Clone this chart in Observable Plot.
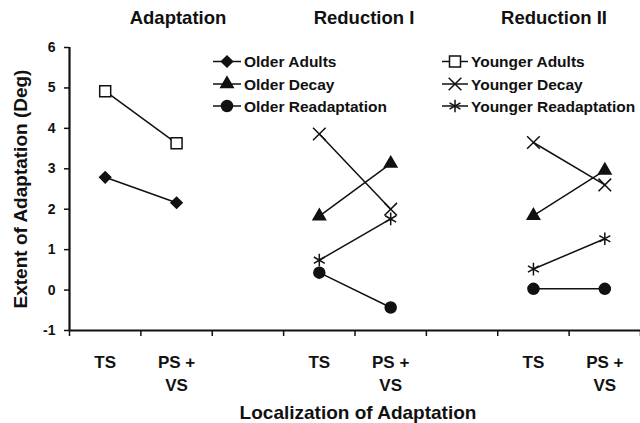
<!DOCTYPE html>
<html>
<head>
<meta charset="utf-8">
<script src="https://cdn.jsdelivr.net/npm/d3@7"></script>
<script src="https://cdn.jsdelivr.net/npm/@observablehq/plot@0.6"></script>
<style>
  body { margin: 0; background: #fff; }
  #wrap { position: relative; width: 640px; height: 423px; font-family: "Liberation Sans", Arial, sans-serif; color: #111; }
  .ptitle { position: absolute; top: 8px; line-height: 20px; font-size: 18.5px; font-weight: bold; white-space: nowrap; transform: translateX(-50%); }
  #legend { position: absolute; left: 0; top: 0; pointer-events: none; }
</style>
</head>
<body>
<div id="wrap"></div>
<script>
// ---- data ----
const slots = ["TS", "PS +\nVS", "", "TS", "PS +\nVS", "", "TS", "PS +\nVS"];
const panels = ["Adaptation", "Reduction I", "Reduction II"];
const panelStartSlot = [0, 3, 6];
const conditions = ["TS", "PS + VS"];
const yTicks = [-1, 0, 1, 2, 3, 4, 5, 6];

const olderAdults = [2.79, 2.16];
const youngerAdults = [4.92, 3.63];
const olderDecayR1 = [1.83, 3.13];
const olderDecayR2 = [1.84, 2.96];
const youngerDecayR1 = [3.86, 2.00];
const youngerDecayR2 = [3.65, 2.60];
const olderReadaptR1 = [0.43, -0.43];
const olderReadaptR2 = [0.03, 0.03];
const youngerReadaptR1 = [0.74, 1.76];
const youngerReadaptR2 = [0.52, 1.27];

const seriesNames = ["Older Adults", "Older Decay", "Older Readaptation", "Younger Adults", "Younger Decay", "Younger Readaptation"];

const seriesDefs = [
  {name: "Older Adults", panel: "Adaptation", values: olderAdults},
  {name: "Younger Adults", panel: "Adaptation", values: youngerAdults},
  {name: "Older Decay", panel: "Reduction I", values: olderDecayR1},
  {name: "Younger Decay", panel: "Reduction I", values: youngerDecayR1},
  {name: "Older Readaptation", panel: "Reduction I", values: olderReadaptR1},
  {name: "Younger Readaptation", panel: "Reduction I", values: youngerReadaptR1},
  {name: "Older Decay", panel: "Reduction II", values: olderDecayR2},
  {name: "Younger Decay", panel: "Reduction II", values: youngerDecayR2},
  {name: "Older Readaptation", panel: "Reduction II", values: olderReadaptR2},
  {name: "Younger Readaptation", panel: "Reduction II", values: youngerReadaptR2}
];

// ---- styles ----
const symbolStyle = {
  "Older Adults": {symbol: "diamond2", r: 5, fill: "#111", stroke: "#111"},
  "Younger Adults": {symbol: "square", r: 6.2, fill: "#fff", stroke: "#111"},
  "Older Decay": {symbol: "triangle", r: 4.6, fill: "#111", stroke: "#111"},
  "Younger Decay": {symbol: "times", r: 5.8, fill: "none", stroke: "#111"},
  "Older Readaptation": {symbol: "circle", r: 5.5, fill: "#111", stroke: "#111"},
  "Younger Readaptation": {symbol: "asterisk", r: 6.0, fill: "none", stroke: "#111"}
};
const d3Sym = {diamond2: d3.symbolDiamond2, square: d3.symbolSquare, triangle: d3.symbolTriangle, times: d3.symbolTimes, circle: d3.symbolCircle, asterisk: d3.symbolAsterisk};

const rows = [];
seriesDefs.forEach(s => {
  const start = panelStartSlot[panels.indexOf(s.panel)];
  s.values.forEach((v, i) => rows.push({series: s.name, panel: s.panel, cond: conditions[i], slot: start + i + 0.5, value: v}));
});
const slotRows = slots.map((t, i) => ({label: t, slot: i + 0.5})).filter(d => d.label);

const font = "Liberation Sans, Arial, sans-serif";

const chart = Plot.plot({
  width: 640,
  height: 423,
  marginLeft: 69,
  marginRight: 0,
  marginTop: 47,
  marginBottom: 93,
  style: {fontFamily: font, color: "#111", background: "#fff", overflow: "visible"},
  x: {domain: [0, slots.length], axis: null},
  y: {domain: [-1, 6], axis: null},
  marks: [
    Plot.axisY({ticks: yTicks, tickSize: 5, tickPadding: 9, fontSize: 14, fontWeight: "bold", tickFormat: d => String(d), label: null, strokeWidth: 1.5}),
    Plot.axisX({ticks: d3.range(0, slots.length + 1), tickSize: 6, tickFormat: () => "", label: null, strokeWidth: 1.5}),
    Plot.ruleY([-1], {strokeWidth: 2.2, stroke: "#111"}),
    Plot.ruleX([0], {y1: -1, y2: 6, strokeWidth: 2.2, stroke: "#111"}),
    Plot.line(rows, {x: "slot", y: "value", z: d => d.series + "|" + d.panel, stroke: "#111", strokeWidth: 1.5}),
    ...seriesNames.map(name => {
      const st = symbolStyle[name];
      return Plot.dot(rows.filter(d => d.series === name), {x: "slot", y: "value", symbol: () => st.symbol, r: st.r, fill: st.fill, stroke: st.stroke, strokeWidth: 1.5});
    }),
    Plot.text(slotRows, {x: "slot", y: () => -1, text: "label", lineAnchor: "top", dy: 21, lineHeight: 1.35, fontSize: 17, fontWeight: "bold"}),
    Plot.text(["Extent of Adaptation (Deg)"], {frameAnchor: "left", dx: -49, rotate: -90, fontSize: 19, fontWeight: "bold", textAnchor: "middle"}),
    Plot.text(["Localization of Adaptation"], {frameAnchor: "bottom", dx: 3, dy: 82, lineAnchor: "middle", fontSize: 19, fontWeight: "bold"})
  ]
});

const wrap = document.getElementById("wrap");
wrap.appendChild(chart);

// panel titles
const titleCenters = [178, 364, 554];
panels.forEach((p, i) => {
  const d = document.createElement("div");
  d.className = "ptitle";
  d.style.left = titleCenters[i] + "px";
  d.textContent = p;
  wrap.appendChild(d);
});

// legend
const legendCols = [{lineX0: 213, lineX1: 241, mark: 227, text: 244}, {lineX0: 442, lineX1: 468, mark: 455, text: 471}];
const legendRowsY = [61.5, 84, 106];
const lsvg = d3.select(wrap).append("svg").attr("id", "legend").attr("width", 640).attr("height", 423);
seriesNames.forEach((name, i) => {
  const col = legendCols[Math.floor(i / 3)];
  const y = legendRowsY[i % 3];
  const st = symbolStyle[name];
  const g = lsvg.append("g");
  g.append("line").attr("x1", col.lineX0).attr("x2", col.lineX1).attr("y1", y).attr("y2", y).attr("stroke", "#111").attr("stroke-width", 1.5);
  g.append("path")
    .attr("d", d3.symbol(d3Sym[st.symbol], Math.PI * st.r * st.r)())
    .attr("transform", `translate(${col.mark},${y})`)
    .attr("fill", st.fill).attr("stroke", st.stroke).attr("stroke-width", 1.5);
  g.append("text").attr("x", col.text).attr("y", y).attr("dy", "0.36em")
    .attr("font-family", font).attr("font-size", 15.5).attr("font-weight", "bold").attr("fill", "#111")
    .text(name);
});
</script>
</body>
</html>
